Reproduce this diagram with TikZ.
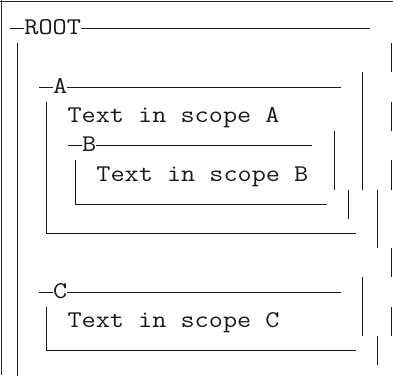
\documentclass[tikz,border=0pt]{standalone}
\usepackage{fontspec}
\usepackage{graphicx}
\newcommand\monotext[1]{\scalebox{1.143}[1]{\ttfamily\fontsize{24}{28.8}\selectfont #1}}
\begin{document}
\begin{tikzpicture}[x=1pt,y=-1pt,
  lbl/.style={anchor=base west,inner sep=0pt,outer sep=0pt,text=black!90},
  boxline/.style={line width=1.4pt,draw=black!90},
  frameline/.style={line width=1pt,draw=black!85}]
\useasboundingbox (0,0) rectangle (393,375);
% outer frame (top and left)
\draw[frameline] (0,1.5) -- (393,1.5);
\draw[frameline] (1.5,0) -- (1.5,375);
% ROOT
\node[lbl] (root) at (24.4,34.5) {\monotext{ROOT}};
\draw[boxline] (10,28.5) -- (root.west |- 0,28.5);
\draw[boxline] (root.east |- 0,28.5) -- (370,28.5);
\draw[boxline] (17.5,43) -- (17.5,376);
% A
\node[lbl] (alab) at (53.2,93.1) {\monotext{A}};
\node[lbl] (atext) at (67.6,122.4) {\monotext{Text in scope A}};
\draw[boxline] (38.8,87.5) -- (alab.west |- 0,87.5);
\draw[boxline] (alab.east |- 0,87.5) -- (341.2,87.5);
\draw[boxline] (46.5,101.6) -- (46.5,233.5) -- (355.6,233.5);
% B
\node[lbl] (blab) at (82,151.7) {\monotext{B}};
\node[lbl] (btext) at (96.4,181.0) {\monotext{Text in scope B}};
\draw[boxline] (67.6,145.5) -- (blab.west |- 0,145.5);
\draw[boxline] (blab.east |- 0,145.5) -- (312.4,145.5);
\draw[boxline] (75.5,160.2) -- (75.5,204.5) -- (326.8,204.5);
% C
\node[lbl] (clab) at (53.2,298.2) {\monotext{C}};
\node[lbl] (ctext) at (67.6,327.5) {\monotext{Text in scope C}};
\draw[boxline] (38.8,292.5) -- (clab.west |- 0,292.5);
\draw[boxline] (clab.east |- 0,292.5) -- (341.2,292.5);
\draw[boxline] (46.5,306.7) -- (46.5,350.5) -- (355.6,350.5);
% right-hand bars
\draw[boxline] (334.5,130.9) -- (334.5,189.5);
\draw[boxline] (348.5,189.5) -- (348.5,218.8);
\draw[boxline] (362.5,72.3) -- (362.5,189.5);
\draw[boxline] (362.5,277.4) -- (362.5,336);
\draw[boxline] (377.5,189.5) -- (377.5,248.1);
\draw[boxline] (377.5,336) -- (377.5,365.3);
\draw[boxline] (391.5,43) -- (391.5,72.3);
\draw[boxline] (391.5,101.6) -- (391.5,130.9);
\draw[boxline] (391.5,160.2) -- (391.5,189.5);
\draw[boxline] (391.5,248.1) -- (391.5,277.4);
\draw[boxline] (391.5,306.7) -- (391.5,336);
\end{tikzpicture}
\end{document}
